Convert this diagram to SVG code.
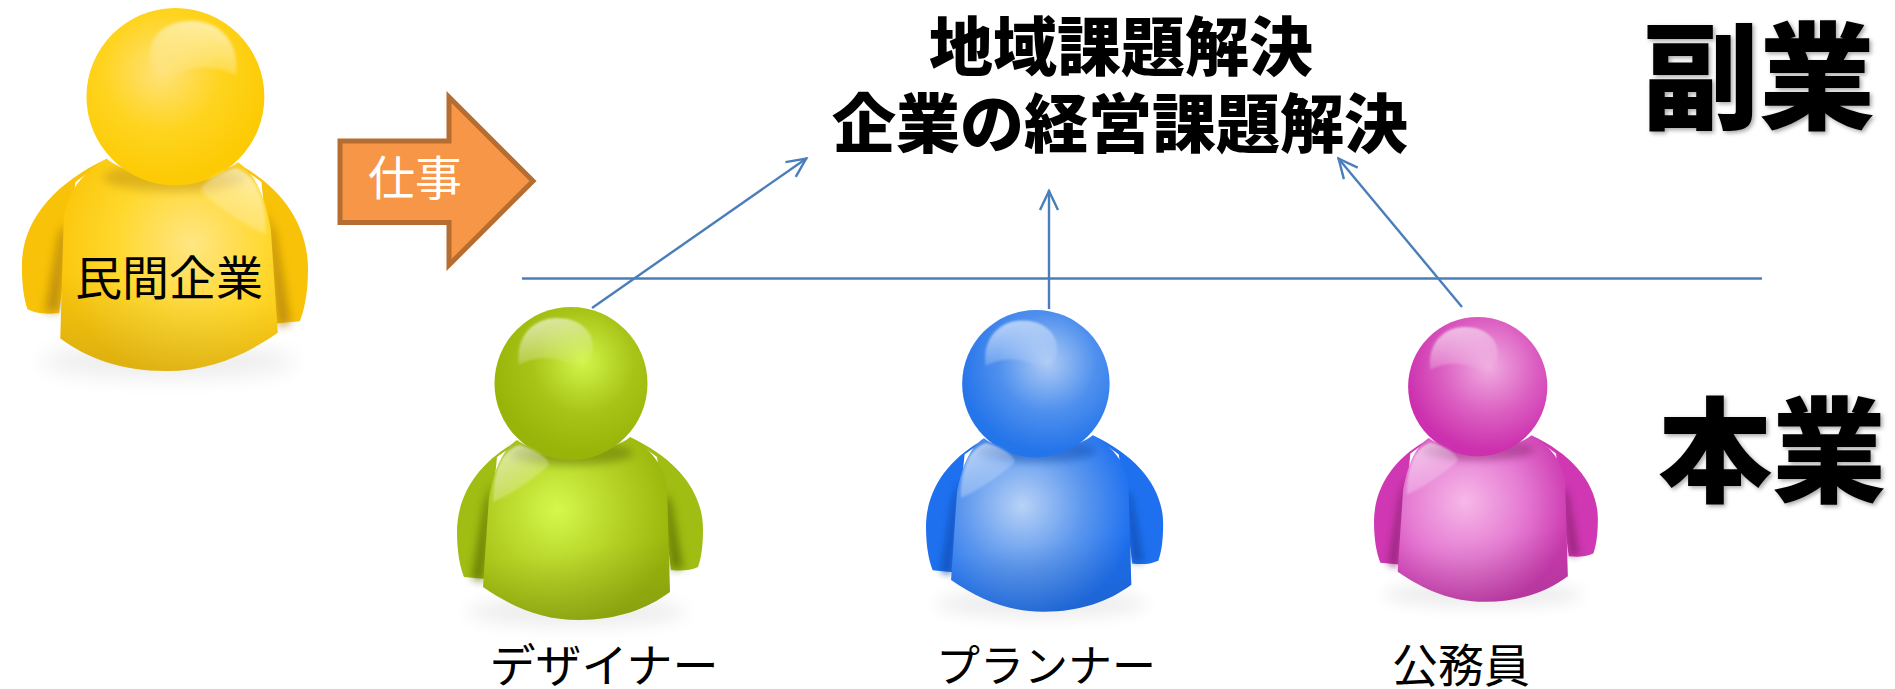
<svg xmlns="http://www.w3.org/2000/svg" width="1895" height="689" viewBox="0 0 1895 689">
<style>
text{font-family:"Noto Sans CJK JP","Liberation Sans",sans-serif;fill:#000;text-anchor:middle}
.lbl{font-size:46px}
.ttl{font-size:64px;font-weight:900}
.big{font-weight:900;filter:url(#ts)}
.ln{stroke:#4a7ebb;stroke-width:2.400;fill:none}
.sh{fill:#000;opacity:.07;filter:url(#bl)}
.crease{opacity:.7;filter:url(#bs)}
.neck{opacity:.45;filter:url(#bs)}
.h1{fill:url(#hg1)}
.h2{fill:url(#hg2)}
.bot{fill:url(#botg)}
</style>
<defs>
<marker id="oa" viewBox="0 0 24 24" refX="22" refY="12" markerWidth="24" markerHeight="24" markerUnits="userSpaceOnUse" orient="auto"><path d="M2 3 L21 12 L2 21" fill="none" stroke="#4a7ebb" stroke-width="2.400"/></marker>
<filter id="bl" x="-30%" y="-60%" width="160%" height="220%"><feGaussianBlur stdDeviation="9"/></filter>
<filter id="bs" x="-40%" y="-40%" width="180%" height="180%"><feGaussianBlur stdDeviation="4"/></filter>
<filter id="hb" x="-20%" y="-20%" width="140%" height="140%"><feGaussianBlur stdDeviation="1.200"/></filter>
<filter id="ts" x="-10%" y="-10%" width="125%" height="125%"><feDropShadow dx="2" dy="2" stdDeviation="2" flood-color="#000" flood-opacity=".35"/></filter>
<linearGradient id="hg1" gradientUnits="userSpaceOnUse" x1="90" y1="10" x2="105" y2="64"><stop offset="0" stop-color="#fff" stop-opacity=".62"/><stop offset="1" stop-color="#fff" stop-opacity="0"/></linearGradient>
<linearGradient id="hg2" gradientUnits="userSpaceOnUse" x1="42" y1="145" x2="78" y2="195"><stop offset="0" stop-color="#fff" stop-opacity=".62"/><stop offset="1" stop-color="#fff" stop-opacity="0"/></linearGradient>
<linearGradient id="botg" gradientUnits="userSpaceOnUse" x1="100" y1="245" x2="110" y2="313"><stop offset="0" stop-color="#333" stop-opacity="0"/><stop offset="1" stop-color="#333" stop-opacity=".14"/></linearGradient>
<path id="arms" d="M63 133C25 152 0 185 0 225C0 245 3 260 7 270L28 272L40 150ZM173 130C220 152 246 185 246 222C246 240 244 252 241 260C232 264 224 264 214 263L200 150Z"/>
<path id="torso" d="M60 133C42 145 36 170 32 190L26 280C55 300 85 313 122 313C160 313 190 302 213 285L210 180C207 160 195 142 173 130C150 150 80 150 60 133Z"/>
<path id="armsh" d="M36 175L26 275L15 272L28 195ZM206 185L214 262L226 262L214 195Z"/>
<ellipse id="neck" cx="114" cy="146" rx="62" ry="12"/>
<circle id="head" cx="114" cy="76.500" r="76.500"/>
<path id="hl1" d="M62 58C58 30 76 11 100 11C122 11 137 24 136 42C136 52 130 62 126 66C105 48 80 48 62 58Z"/>
<path id="hl2" d="M36 195C36 165 44 144 62 138C74 140 92 150 92 158C80 170 50 190 36 195Z"/>
<radialGradient id="gg" gradientUnits="userSpaceOnUse" cx="126" cy="55" r="92"><stop offset="0" stop-color="#d2f54a"/><stop offset=".55" stop-color="#a8c417"/><stop offset="1" stop-color="#99b408"/></radialGradient>
<radialGradient id="gb" gradientUnits="userSpaceOnUse" cx="100" cy="203" r="118"><stop offset="0" stop-color="#d5f84c"/><stop offset=".55" stop-color="#b4d024"/><stop offset="1" stop-color="#9ab50a"/></radialGradient>
<radialGradient id="bg" gradientUnits="userSpaceOnUse" cx="126" cy="55" r="92"><stop offset="0" stop-color="#aecbf5"/><stop offset=".55" stop-color="#4f90ee"/><stop offset="1" stop-color="#2474ea"/></radialGradient>
<radialGradient id="bb" gradientUnits="userSpaceOnUse" cx="100" cy="203" r="118"><stop offset="0" stop-color="#b8d2f6"/><stop offset=".55" stop-color="#5a96ee"/><stop offset="1" stop-color="#1a6ef0"/></radialGradient>
<radialGradient id="pg" gradientUnits="userSpaceOnUse" cx="126" cy="55" r="92"><stop offset="0" stop-color="#f0ace0"/><stop offset=".55" stop-color="#dc60c2"/><stop offset="1" stop-color="#cc30ae"/></radialGradient>
<radialGradient id="pb" gradientUnits="userSpaceOnUse" cx="100" cy="203" r="118"><stop offset="0" stop-color="#f6b8e8"/><stop offset=".55" stop-color="#e57ad2"/><stop offset="1" stop-color="#cc38b0"/></radialGradient>
<radialGradient id="yg" gradientUnits="userSpaceOnUse" cx="126" cy="55" r="92"><stop offset="0" stop-color="#ffe27a"/><stop offset=".55" stop-color="#fed41f"/><stop offset="1" stop-color="#fdcb05"/></radialGradient>
<radialGradient id="yb" gradientUnits="userSpaceOnUse" cx="100" cy="203" r="118"><stop offset="0" stop-color="#ffe684"/><stop offset=".55" stop-color="#ffd82e"/><stop offset="1" stop-color="#fbc60a"/></radialGradient>
</defs>
<rect width="1895" height="689" fill="#fff"/>
<g id="connectors">
<line class="ln" x1="522" y1="278.500" x2="1762" y2="278.500"/>
<line class="ln" x1="592" y1="308" x2="807" y2="158" marker-end="url(#oa)"/>
<line class="ln" x1="1049" y1="309" x2="1049" y2="190" marker-end="url(#oa)"/>
<line class="ln" x1="1462" y1="307" x2="1338" y2="158" marker-end="url(#oa)"/>
</g>
<g id="person-company">
<g transform="translate(308 8) scale(-1.163 1.16)">
<ellipse class="sh" cx="120" cy="305" rx="110" ry="14"/>
<use href="#arms" fill="#f8c208"/>
<use href="#armsh" class="crease" fill="#a87a08"/>
<use href="#torso" fill="url(#yb)"/>
<use href="#torso" class="bot"/>
<use href="#neck" class="neck" fill="#b88a10"/>
<use href="#head" fill="url(#yg)"/>
<use href="#hl1" class="h1" filter="url(#hb)"/>
<use href="#hl2" class="h2" filter="url(#hb)"/>
</g>
<text class="lbl" x="169" y="295" style="font-size:47px">民間企業</text>
</g>
<g id="arrow-work">
<path d="M340 141H449V97L533 181L449 265V222.500H340Z" fill="#f79646" stroke="#b66d31" stroke-width="5"/>
<text x="415" y="195" style="fill:#fff;font-size:47px">仕事</text>
</g>
<g id="title">
<text class="ttl" x="1121" y="70">地域課題解決</text>
<text class="ttl" x="1120" y="147">企業の経営課題解決</text>
</g>
<text class="big" x="1759" y="120" style="font-size:116px">副業</text>
<text class="big" x="1772" y="493" style="font-size:114px">本業</text>
<g id="person-designer">
<g transform="translate(457 307)">
<ellipse class="sh" cx="120" cy="305" rx="110" ry="14"/>
<use href="#arms" fill="#9fbd12"/>
<use href="#armsh" class="crease" fill="#526406"/>
<use href="#torso" fill="url(#gb)"/>
<use href="#torso" class="bot"/>
<use href="#neck" class="neck" fill="#526406"/>
<use href="#head" fill="url(#gg)"/>
<use href="#hl1" class="h1" filter="url(#hb)"/>
<use href="#hl2" class="h2" filter="url(#hb)"/>
</g>
<text class="lbl" x="604" y="682">デザイナー</text>
</g>
<g id="person-planner">
<g transform="translate(926 310) scale(.964)">
<ellipse class="sh" cx="120" cy="305" rx="110" ry="14"/>
<use href="#arms" fill="#1f70ee"/>
<use href="#armsh" class="crease" fill="#0b4bb0"/>
<use href="#torso" fill="url(#bb)"/>
<use href="#torso" class="bot"/>
<use href="#neck" class="neck" fill="#0b4bb0"/>
<use href="#head" fill="url(#bg)"/>
<use href="#hl1" class="h1" filter="url(#hb)"/>
<use href="#hl2" class="h2" filter="url(#hb)"/>
</g>
<text class="lbl" x="1046" y="682" style="font-size:44px">プランナー</text>
</g>
<g id="person-officer">
<g transform="translate(1374 317) scale(.91)">
<ellipse class="sh" cx="120" cy="305" rx="110" ry="14"/>
<use href="#arms" fill="#cf38b2"/>
<use href="#armsh" class="crease" fill="#8a2070"/>
<use href="#torso" fill="url(#pb)"/>
<use href="#torso" class="bot"/>
<use href="#neck" class="neck" fill="#8a2070"/>
<use href="#head" fill="url(#pg)"/>
<use href="#hl1" class="h1" filter="url(#hb)"/>
<use href="#hl2" class="h2" filter="url(#hb)"/>
</g>
<text class="lbl" x="1461" y="682">公務員</text>
</g>
</svg>
